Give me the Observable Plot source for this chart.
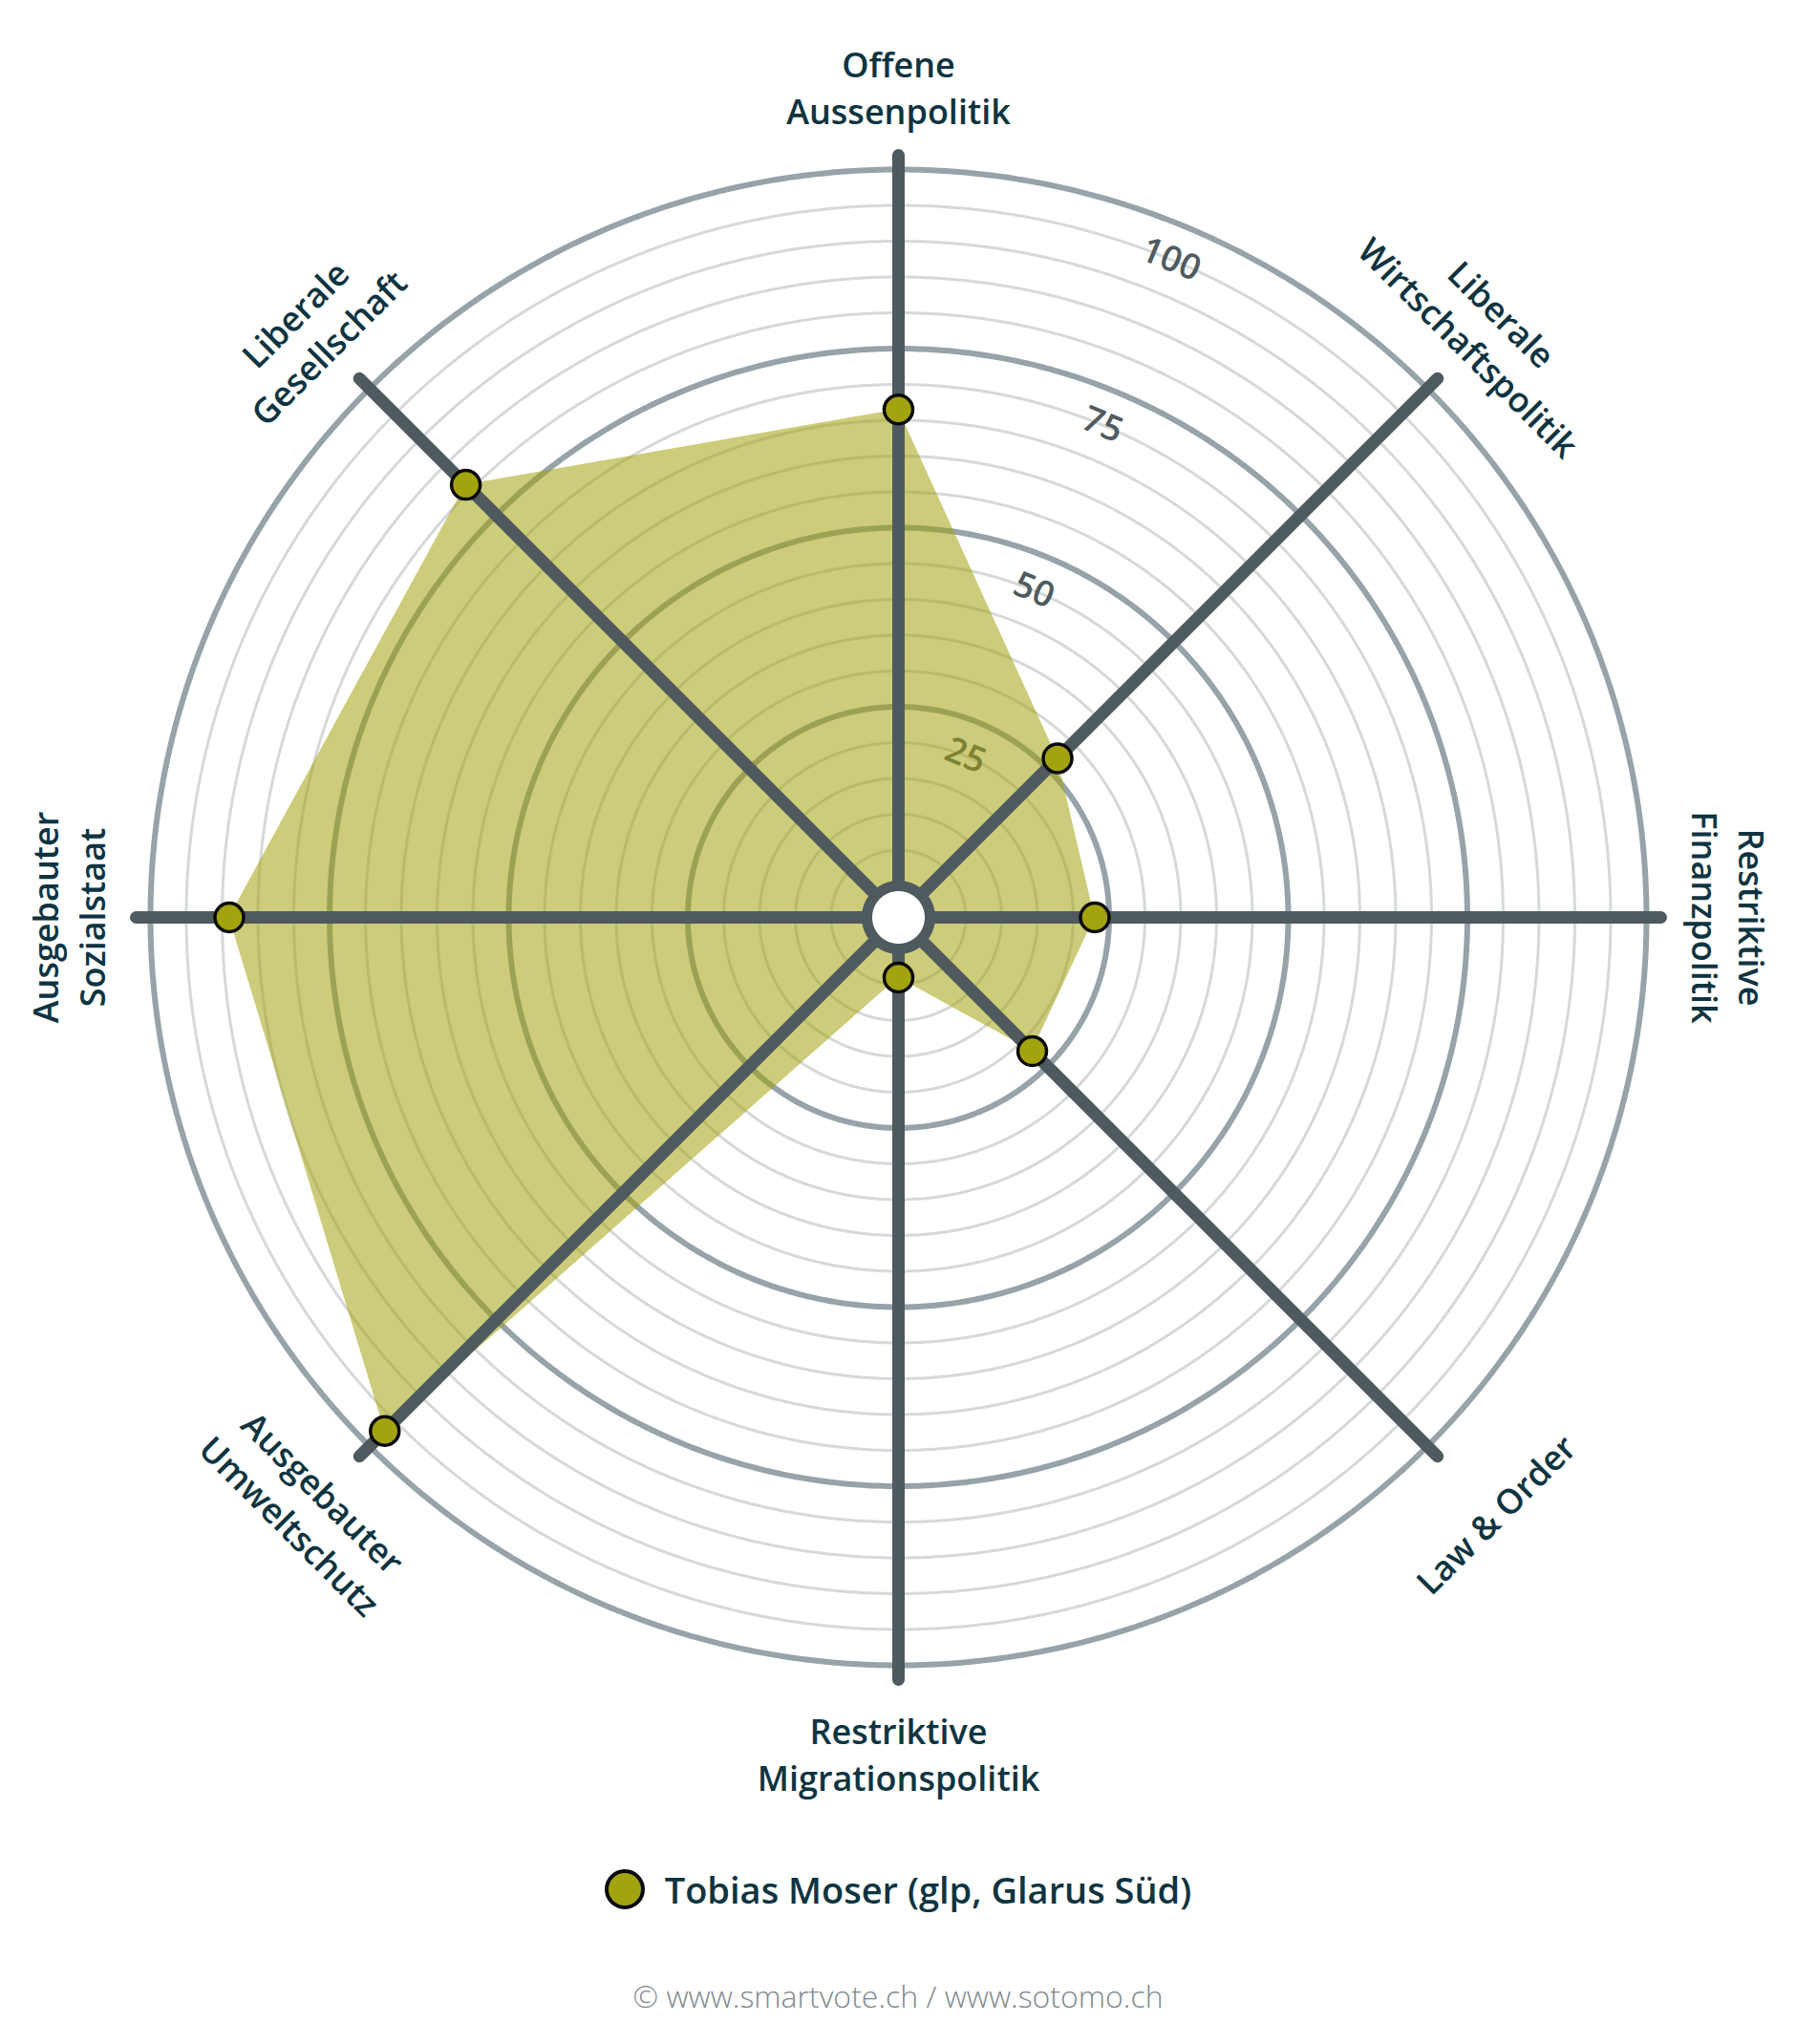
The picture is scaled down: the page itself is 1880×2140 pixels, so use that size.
<!DOCTYPE html>
<html>
<head>
<meta charset="utf-8">
<script src="https://cdn.jsdelivr.net/npm/d3@7"></script>
<script src="https://cdn.jsdelivr.net/npm/@observablehq/plot@0.6"></script>
<style>
  html, body { margin: 0; padding: 0; background: #ffffff; }
  body { width: 1880px; }
  #chart svg { display: block; }
  .legend { display: flex; justify-content: center; align-items: center; height: 48px; margin-top: 24px;
            font-family: "Open Sans", Lato, sans-serif; font-weight: 600; font-size: 38px; color: #0e3441; }
  .legend .dot { width: 34px; height: 34px; border-radius: 50%; background: #a3a30d; border: 4px solid #0a0a0a;
                 margin-right: 21px; box-sizing: content-box; }
  .footer { text-align: center; font-family: "Open Sans", Lato, sans-serif; font-weight: 300; font-size: 32px;
            color: #7f898d; margin-top: 68px; line-height: 40px; }
</style>
</head>
<body>
<div id="chart"></div>
<div class="legend"><span class="dot"></span><span id="legend-label"></span></div>
<div class="footer" id="footer"></div>
<script>
// ---- data ----
const categories = [
  "Offene\nAussenpolitik",
  "Liberale\nWirtschaftspolitik",
  "Restriktive\nFinanzpolitik",
  "Law & Order",
  "Restriktive\nMigrationspolitik",
  "Ausgebauter\nUmweltschutz",
  "Ausgebauter\nSozialstaat",
  "Liberale\nGesellschaft"
];
const values = [66.5, 27, 23, 22, 4, 97, 89, 81];
const seriesName = "Tobias Moser (glp, Glarus Süd)";
const tickValues = [25, 50, 75, 100];
const minorRings = [5, 10, 15, 20, 30, 35, 40, 45, 55, 60, 65, 70, 80, 85, 90, 95];
const sourceText = "© www.smartvote.ch / www.sotomo.ch";

// ---- geometry helpers (scale units) ----
const R0 = 4.4;          // inner hole, in value units
const SPOKE_END = 102;   // spokes run slightly past 100
const LABEL_AT = 106.3;  // inner edge of category labels
const LINE_STEP = 4.3;   // offset for single-line labels, in value units
const TICK_ANGLE = 22.5;
const n = categories.length;
const angleOf = i => i * 360 / n;           // clockwise from top
const lonOf = i => 180 - angleOf(i);         // longitude in the polar projection
const latOf = v => 90 - (v + R0);

const rows = categories.map((key, i) => ({key, i, value: values[i], angle: angleOf(i), lines: key.split("\n").length}));
const upper = rows.filter(d => d.angle <= 90 || d.angle >= 270);
const lower = rows.filter(d => d.angle > 90 && d.angle < 270);

const circle = r => d3.geoCircle().center([0, 90]).radius(r + R0).precision(0.5)();

const olive = "#a3a30d";
const spoke = "#4e5a5e";
const labelColor = "#0e3441";
const font = "'Open Sans', Lato, sans-serif";

const chart = Plot.plot({
  width: 1880,
  height: 1930,
  marginLeft: 10,
  marginRight: 10,
  marginTop: 30,
  marginBottom: 40,
  style: {fontFamily: font, background: "#ffffff"},
  projection: {
    type: "azimuthal-equidistant",
    rotate: [0, -90],
    domain: d3.geoCircle().center([0, 90]).radius(124).precision(0.5)()
  },
  marks: [
    // minor rings
    Plot.geo(minorRings, {geometry: v => circle(v), fill: "none", stroke: "#d5d9da", strokeWidth: 3}),
    // major rings
    Plot.geo(tickValues, {geometry: v => circle(v), fill: "none", stroke: "#96a3a8", strokeWidth: 6}),
    // ring labels
    Plot.text(tickValues, {
      x: lonOf(0) - TICK_ANGLE, y: v => latOf(v - 5), text: v => String(v),
      rotate: TICK_ANGLE, fontSize: 37, fontWeight: 600, fill: "#4f5b5f", fontFamily: font
    }),
    // the candidate's profile
    Plot.area(rows, {
      x1: d => lonOf(d.i), y1: d => latOf(d.value), x2: 0, y2: 90,
      fill: olive, fillOpacity: 0.55, curve: "linear-closed"
    }),
    // spokes
    Plot.link(rows, {
      x1: d => lonOf(d.i), y1: latOf(0), x2: d => lonOf(d.i), y2: latOf(SPOKE_END),
      stroke: spoke, strokeWidth: 13, strokeLinecap: "round"
    }),
    // centre ring
    Plot.geo([0], {geometry: () => circle(0), fill: "#ffffff", stroke: spoke, strokeWidth: 11}),
    // points
    Plot.dot(rows, {
      x: d => lonOf(d.i), y: d => latOf(d.value), r: 15,
      fill: olive, stroke: "#0a0a0a", strokeWidth: 3.5
    }),
    // category labels
    Plot.text(upper, {
      x: d => lonOf(d.i), y: latOf(LABEL_AT), text: "key", rotate: d => d.angle,
      lineAnchor: "bottom", lineHeight: 1.37, fontSize: 36, fontWeight: 600, fill: labelColor, fontFamily: font
    }),
    Plot.text(lower, {
      x: d => lonOf(d.i), y: d => latOf(LABEL_AT + (2 - d.lines) * LINE_STEP), text: "key", rotate: d => d.angle - 180,
      lineAnchor: "top", lineHeight: 1.37, fontSize: 36, fontWeight: 600, fill: labelColor, fontFamily: font
    })
  ]
});

document.getElementById("chart").appendChild(chart);
document.getElementById("legend-label").textContent = seriesName;
document.getElementById("footer").textContent = sourceText;
</script>
</body>
</html>
